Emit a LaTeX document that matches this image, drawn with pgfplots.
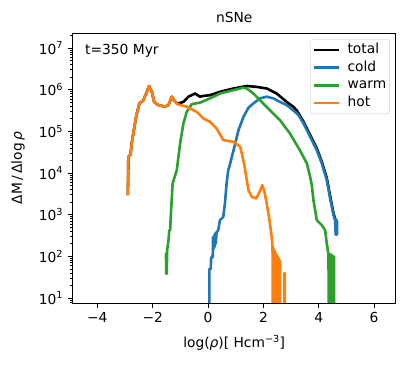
\documentclass[border=0pt]{standalone}
\usepackage{fontspec}
\setmainfont{DejaVu Sans}
\usepackage{pgfplots}
\pgfplotsset{compat=1.18}
\usetikzlibrary{calc}
\definecolor{tblue}{HTML}{1F77B4}
\definecolor{torange}{HTML}{FF7F0E}
\definecolor{tgreen}{HTML}{2CA02C}
\begin{document}
\fontsize{13.8bp}{16bp}\selectfont
\begin{tikzpicture}
\begin{axis}[name=ax, scale only axis, width=323bp, height=270bp,
  xmin=-4.89, xmax=6.78, ymode=log, ymin=7.6, ymax=2.3e7,
  /pgf/number format/assume math mode=true,
  tick align=outside, tick pos=left,
  major tick length=4.9bp, minor tick length=2.8bp,
  every tick/.style={black, line width=0.8bp},
  axis line style={line width=0.8bp},
  xtick={-4,-2,0,2,4,6}, xticklabels={−4,−2,0,2,4,6},
  ytick={1e1,1e2,1e3,1e4,1e5,1e6,1e7},
  yticklabels={10\textsuperscript{1},10\textsuperscript{2},10\textsuperscript{3},10\textsuperscript{4},10\textsuperscript{5},10\textsuperscript{6},10\textsuperscript{7}},
  minor ytick={8,9,20,30,40,50,60,70,80,90,200,300,400,500,600,700,800,900,2000,3000,4000,5000,6000,7000,8000,9000,2e4,3e4,4e4,5e4,6e4,7e4,8e4,9e4,2e5,3e5,4e5,5e5,6e5,7e5,8e5,9e5,2e6,3e6,4e6,5e6,6e6,7e6,8e6,9e6,2e7},
  ticklabel style={font=\fontsize{13.8bp}{16bp}\selectfont},
  title={nSNe},
  every axis title/.style={at={(rel axis cs:0.5,1)}, yshift=16bp, anchor=center, font=\fontsize{13.8bp}{16bp}\selectfont},
  xlabel={log(\textit{ρ})[ Hcm\textsuperscript{−3}]},
  every axis x label/.style={at={(rel axis cs:0.5,0)}, yshift=-39.7bp, anchor=center, font=\fontsize{13.8bp}{16bp}\selectfont},
  ylabel={ΔM\,/\,Δlog\,\textit{ρ}},
  every axis y label/.style={at={(rel axis cs:0,0.5)}, xshift=-54.7bp, rotate=90, anchor=center, font=\fontsize{13.8bp}{16bp}\selectfont},
  legend cell align=left,
  legend image code/.code={\draw[#1] (0bp,0bp) -- (25bp,0bp);},
  legend style={at={(0.982,0.978)}, anchor=north east, draw=black!20, rounded corners=3bp,
    fill=white, fill opacity=0.8, text opacity=1, font=\fontsize{13.8bp}{16bp}\selectfont,
    row sep=0pt, column sep=6bp, inner sep=2bp,
    nodes={inner xsep=1.5bp, inner ysep=2.5bp, text height=0.72em, text depth=0.2em}},
  every axis plot/.append style={line width=2.6bp, line join=round},
]
% total
\addplot[black] coordinates {
(-2.90,2.95e3) (-2.89,6e3) (-2.88,2.45e4) (-2.80,2.8e4) (-2.76,5.1e4) (-2.70,8.9e4) (-2.60,2.24e5)
(-2.48,4.7e5) (-2.34,5.6e5) (-2.21,8.9e5) (-2.13,1.23e6) (-2.03,8.9e5) (-1.95,5.1e5)
(-1.80,4.3e5) (-1.55,3.9e5) (-1.43,4.3e5) (-1.31,6.8e5) (-1.23,5.6e5) (-1.11,4.6e5)
(-0.89,5.1e5) (-0.71,6.8e5) (-0.47,8.1e5) (-0.29,6.8e5) (-0.17,7.1e5) (0.07,7.4e5)
(0.43,8.9e5) (0.92,1.07e6) (1.40,1.23e6) (1.76,1.17e6) (2.12,1.07e6) (2.48,8.1e5)
(2.84,5.1e5) (3.08,3.9e5) (3.20,3.2e5) (3.27,2.7e5) (3.45,1.7e5) (3.69,8.1e4)
(3.93,3.9e4) (4.11,1.86e4) (4.29,7.6e3) (4.41,2.8e3) (4.53,1.1e3) (4.59,800) (4.65,355)
};
\addlegendentry{total}
% cold
\addplot[tblue] coordinates {
(0.05,1) (0.05,50) (0.10,50) (0.11,95) (0.17,95) (0.18,290) (0.20,150) (0.22,320) (0.24,170)
(0.26,360) (0.28,200) (0.31,380) (0.37,427) (0.43,740) (0.55,890) (0.61,1.86e3)
(0.67,5.6e3) (0.73,1.17e4) (0.79,1.6e4) (0.92,3.5e4) (1.10,1.07e5) (1.28,2.24e5)
(1.46,3.7e5) (1.64,4.7e5) (1.88,6.2e5) (2.12,6.8e5) (2.36,6.2e5) (2.60,5.1e5)
(2.84,4.3e5) (3.14,2.95e5) (3.27,2.45e5) (3.45,1.55e5) (3.69,7.4e4) (3.93,3.5e4)
(4.11,1.7e4) (4.29,6.8e3) (4.41,2.45e3) (4.47,1.6e3) (4.53,1e3) (4.59,740)
(4.61,330) (4.62,760) (4.63,330) (4.64,760) (4.65,330) (4.66,700) (4.66,340)
};
\addlegendentry{cold}
% warm
\addplot[tgreen] coordinates {
(-1.56,115) (-1.52,115) (-1.51,38) (-1.49,38) (-1.48,138) (-1.43,240) (-1.40,427)
(-1.37,427) (-1.34,1.15e3) (-1.31,2.45e3) (-1.28,5.6e3) (-1.13,1.17e4) (-1.01,5.1e4)
(-0.89,1.55e5) (-0.77,2.95e5) (-0.59,4.5e5) (-0.29,4.9e5) (0.07,6.2e5) (0.43,8.1e5)
(0.92,9.8e5) (1.28,1.12e6) (1.40,1.07e6) (1.64,8.1e5) (1.88,5.6e5) (2.24,3.2e5)
(2.60,1.86e5) (2.96,8.9e4) (3.32,3.5e4) (3.57,1.7e4) (3.69,8.1e3) (3.75,5e3)
(3.81,2.2e3) (3.87,1.26e3) (3.93,740) (4.11,560) (4.23,427) (4.29,200) (4.35,115)
(4.37,1) (4.39,115) (4.41,1) (4.43,110) (4.45,1) (4.47,110) (4.49,1) (4.51,100) (4.53,1) (4.55,100) (4.56,1)
};
\addlegendentry{warm}
% hot
\addplot[torange] coordinates {
(-2.90,2.95e3) (-2.88,2.45e4) (-2.80,2.8e4) (-2.76,5.1e4) (-2.70,8.9e4) (-2.60,2.24e5)
(-2.48,4.7e5) (-2.34,5.6e5) (-2.21,8.9e5) (-2.13,1.23e6) (-2.03,8.9e5) (-1.95,5.1e5)
(-1.80,4.3e5) (-1.55,3.9e5) (-1.43,4.3e5) (-1.31,6.8e5) (-1.23,5.6e5) (-1.11,4.5e5)
(-0.77,3.9e5) (-0.41,2.95e5) (-0.17,2.04e5) (0.07,1.7e5) (0.31,1.17e5) (0.55,6.2e4)
(0.92,5.6e4) (1.16,4.3e4) (1.30,1.7e4) (1.40,6.8e3) (1.46,3.9e3) (1.58,2.7e3)
(1.74,2.45e3) (1.86,3.5e3) (1.96,5.1e3) (2.04,3.5e3) (2.12,1.86e3) (2.22,740)
(2.30,290) (2.33,170) (2.34,1) (2.36,160) (2.38,1) (2.40,140) (2.42,1) (2.44,120) (2.46,1)
(2.48,110) (2.50,1) (2.52,100) (2.54,1) (2.56,90) (2.58,1) (2.60,80) (2.61,1)
(2.75,1) (2.76,40) (2.77,40) (2.78,1)
};
\addlegendentry{hot}
\node[anchor=west, inner sep=0pt, font=\fontsize{13.8bp}{16bp}\selectfont] at (rel axis cs:0.038,0.935) {t=350 Myr};
\end{axis}
\path ($(ax.south west)+(-72.7bp,-62bp)$) rectangle ($(ax.north east)+(19.3bp,33bp)$);
\end{tikzpicture}
\end{document}
